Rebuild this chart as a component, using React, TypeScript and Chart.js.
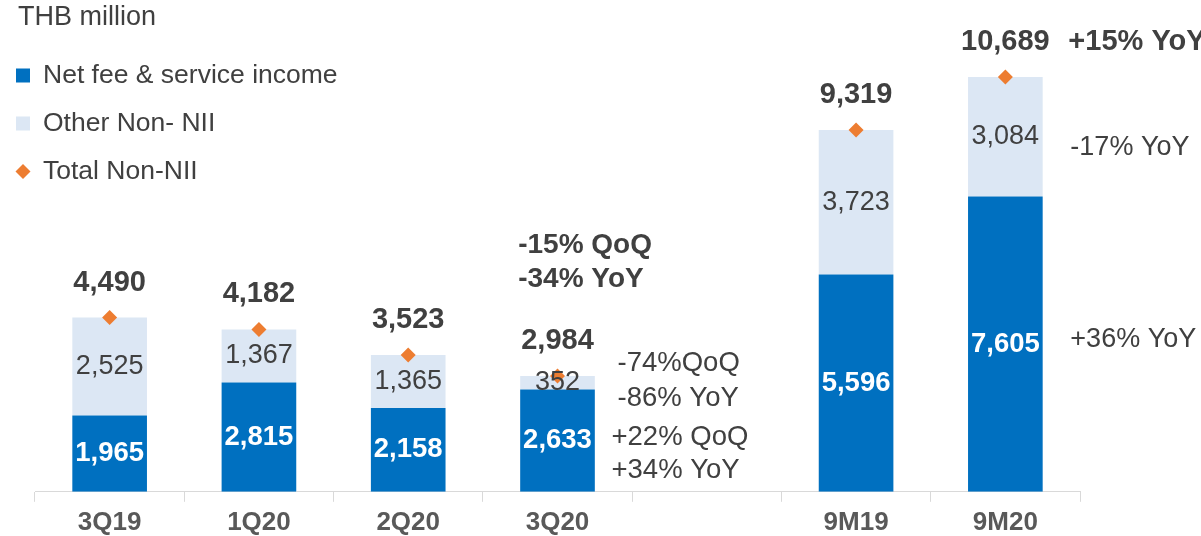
import React, { useEffect, useRef } from "react";
import { Chart, registerables } from "chart.js";

Chart.register(...registerables);

const categories = ["3Q19", "1Q20", "2Q20", "3Q20", "", "9M19", "9M20"];
const netFee = [1965, 2815, 2158, 2633, null, 5596, 7605];
const otherNonNII = [2525, 1367, 1365, 352, null, 3723, 3084];
const totalNonNII = [4490, 4182, 3523, 2984, null, 9319, 10689];

const unitTitle = "THB million";
const seriesNames = ["Net fee & service income", "Other Non- NII", "Total Non-NII"];

const COLORS = { fee: "#0070C0", other: "#DCE7F4", total: "#ED7D31", text: "#404040", axis: "#D9D9D9" };
const FONT = "'Liberation Sans', Arial, sans-serif";

const fmt = (v: number) => v.toLocaleString("en-US");

const labelPlugin = {
  id: "customLabels",
  afterDatasetsDraw(chart: any) {
    const ctx = chart.ctx as CanvasRenderingContext2D;
    const text = (str: string, px: number, py: number, size: number, bold: boolean, color: string, align: CanvasTextAlign = "center") => {
      ctx.save();
      ctx.font = `${bold ? "bold " : ""}${size}px ${FONT}`;
      ctx.fillStyle = color;
      ctx.textAlign = align;
      ctx.textBaseline = "middle";
      ctx.fillText(str, px, py);
      ctx.restore();
    };
    const fee = chart.getDatasetMeta(0).data;
    const oth = chart.getDatasetMeta(1).data;
    const tot = chart.getDatasetMeta(2).data;
    categories.forEach((_, i) => {
      if (netFee[i] == null) return;
      const f = fee[i], o = oth[i], t = tot[i];
      text(fmt(netFee[i] as number), f.x, (f.y + f.base) / 2, 27.5, true, "#FFFFFF");
      text(fmt(otherNonNII[i] as number), o.x, (o.y + o.base) / 2, 27, false, COLORS.text);
      text(fmt(totalNonNII[i] as number), t.x, t.y - 35, 29, true, COLORS.text);
    });
    // annotations for 3Q20
    const q = 3;
    const fq = fee[q], oq = oth[q], tq = tot[q];
    const barLeft = fq.x - fq.width / 2;
    text("-15% QoQ", barLeft - 2, tq.y - 131, 28, true, COLORS.text, "left");
    text("-34% YoY", barLeft - 2, tq.y - 97, 28, true, COLORS.text, "left");
    const oc = (oq.y + oq.base) / 2;
    text("-74%QoQ", oq.x + 60, oc - 19, 27.5, false, COLORS.text, "left");
    text("-86% YoY", oq.x + 60, oc + 16, 27.5, false, COLORS.text, "left");
    const fc = (fq.y + fq.base) / 2;
    text("+22% QoQ", fq.x + 54, fc - 3, 27.5, false, COLORS.text, "left");
    text("+34% YoY", fq.x + 54, fc + 30, 27.5, false, COLORS.text, "left");
    // annotations for 9M20
    const m = 6;
    const fm = fee[m], om = oth[m], tm = tot[m];
    text("+15% YoY", fm.x + 63, tm.y - 35, 29, true, COLORS.text, "left");
    text("-17% YoY", om.x + 65, (om.y + om.base) / 2 + 11, 27, false, COLORS.text, "left");
    text("+36% YoY", fm.x + 65, (fm.y + fm.base) / 2 - 5, 27, false, COLORS.text, "left");

    // title and legend
    text(unitTitle, 18, 18, 27, false, COLORS.text, "left");
    const legendColors = [COLORS.fee, COLORS.other, COLORS.total];
    legendColors.forEach((c, k) => {
      const cy = 75.5 + k * 48;
      ctx.save();
      ctx.fillStyle = c;
      if (k < 2) {
        ctx.fillRect(16, cy - 7, 14, 14);
      } else {
        ctx.beginPath();
        ctx.moveTo(23, cy - 7.5);
        ctx.lineTo(30.5, cy);
        ctx.lineTo(23, cy + 7.5);
        ctx.lineTo(15.5, cy);
        ctx.closePath();
        ctx.fill();
      }
      ctx.restore();
      text(seriesNames[k], 43, cy, 26.5, false, COLORS.text, "left");
    });
  },
};

export default function App() {
  const ref = useRef<HTMLCanvasElement | null>(null);
  useEffect(() => {
    if (!ref.current) return;
    const chart = new Chart(ref.current, {
      type: "bar",
      data: {
        labels: categories,
        datasets: [
          {
            type: "bar",
            label: seriesNames[0],
            data: netFee,
            backgroundColor: COLORS.fee,
            stack: "s",
            order: 2,
          },
          {
            type: "bar",
            label: seriesNames[1],
            data: otherNonNII,
            backgroundColor: COLORS.other,
            stack: "s",
            order: 2,
          },
          {
            type: "line",
            label: seriesNames[2],
            data: totalNonNII,
            showLine: false,
            pointStyle: "rectRot",
            pointRadius: 7.5,
            pointBackgroundColor: COLORS.total,
            pointBorderWidth: 0,
            borderColor: COLORS.total,
            stack: "t",
            order: 1,
          },
        ] as any,
      },
      options: {
        animation: false,
        responsive: false,
        devicePixelRatio: 1,
        datasets: { bar: { categoryPercentage: 1, barPercentage: 0.5 } },
        layout: { padding: { left: 35, right: 121, top: 26, bottom: -7 } },
        plugins: { legend: { display: false }, tooltip: { enabled: false } },
        scales: {
          x: {
            stacked: true,
            grid: { display: true, drawOnChartArea: false, drawTicks: true, tickLength: 10, color: COLORS.axis, offset: true },
            border: { display: true, color: COLORS.axis, width: 1 },
            ticks: { color: "#595959", font: { family: FONT, size: 26, weight: "bold" }, padding: 5, maxRotation: 0 },
          },
          y: {
            stacked: true,
            display: false,
            min: 0,
            max: 12000,
          },
        },
      },
      plugins: [labelPlugin],
    });
    return () => chart.destroy();
  }, []);
  return (
    <div style={{ position: "absolute", left: 0, top: 0, width: 1201, height: 536, background: "#fff" }}>
      <canvas ref={ref} width={1201} height={536} />
    </div>
  );
}
